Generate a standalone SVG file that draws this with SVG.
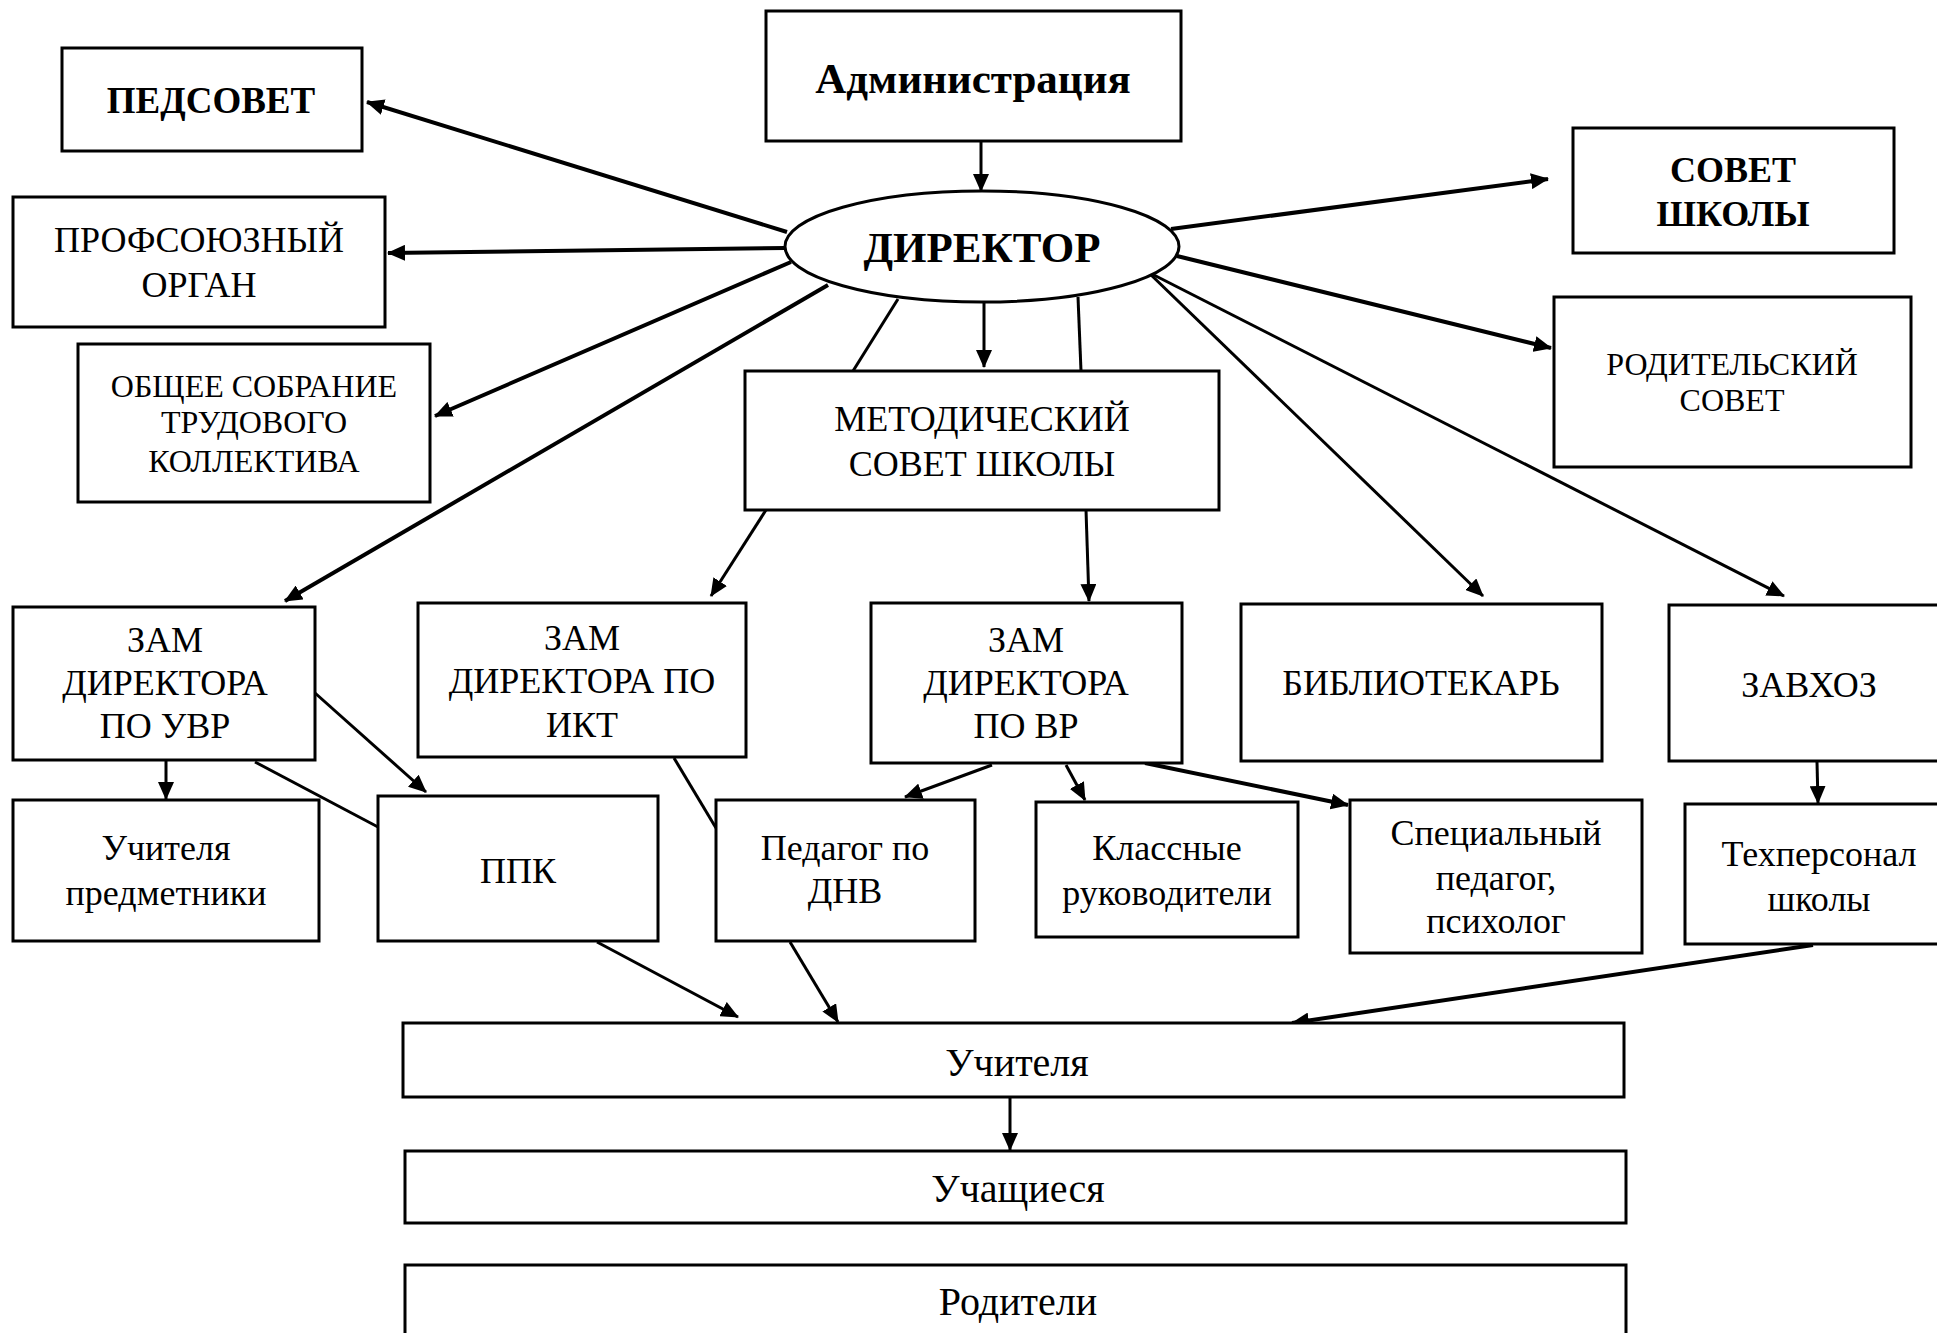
<svg xmlns="http://www.w3.org/2000/svg" width="1937" height="1333" viewBox="0 0 1937 1333">
<defs>
<marker id="ah" markerUnits="userSpaceOnUse" markerWidth="18" markerHeight="16" refX="17" refY="8" orient="auto">
<path d="M0,0 L18,8 L0,16 z" fill="#000"/>
</marker>
<style>
.box{fill:#fff;stroke:#000;stroke-width:3}
.t{font-family:"Liberation Serif","Times New Roman",serif;font-size:36px;fill:#000;text-anchor:middle}
.s{font-size:32px}
.b{font-weight:bold}
.l{font-size:40px}
.big{font-size:43px}
.c{fill:none;stroke:#000;stroke-width:3}
.k{stroke-width:4}
.a{marker-end:url(#ah)}
</style>
</defs>
<rect width="1937" height="1333" fill="#fff"/>
<g id="connectors">
<line class="c a" x1="981" y1="142" x2="981" y2="191"/>
<line class="c k a" x1="787" y1="232" x2="367" y2="102"/>
<line class="c k a" x1="785" y1="248" x2="388" y2="253"/>
<line class="c k a" x1="791" y1="262" x2="435" y2="416"/>
<line class="c k a" x1="828" y1="285" x2="285" y2="601"/>
<line class="c k a" x1="1171" y1="229" x2="1548" y2="179"/>
<line class="c k a" x1="1177" y1="256" x2="1551" y2="348"/>
<line class="c a" x1="1148" y1="272" x2="1483" y2="596"/>
<line class="c a" x1="1148" y1="272" x2="1784" y2="596"/>
<line class="c" x1="898" y1="299" x2="853" y2="371"/>
<line class="c" x1="1078" y1="297" x2="1081" y2="371"/>
<line class="c a" x1="984" y1="303" x2="984" y2="367"/>
<line class="c a" x1="766" y1="510" x2="711" y2="596"/>
<line class="c a" x1="1086" y1="510" x2="1089" y2="601"/>
<line class="c a" x1="166" y1="760" x2="166" y2="799"/>
<line class="c a" x1="315" y1="693" x2="426" y2="792"/>
<line class="c" x1="255" y1="762" x2="378" y2="827"/>
<line class="c" x1="674" y1="758" x2="716" y2="828"/>
<line class="c a" x1="992" y1="765" x2="905" y2="797"/>
<line class="c a" x1="1066" y1="765" x2="1085" y2="800"/>
<line class="c k a" x1="1145" y1="763" x2="1348" y2="805"/>
<line class="c a" x1="1817" y1="762" x2="1818" y2="803"/>
<line class="c a" x1="597" y1="942" x2="738" y2="1017"/>
<line class="c a" x1="790" y1="942" x2="838" y2="1022"/>
<line class="c k a" x1="1813" y1="945" x2="1292" y2="1023"/>
<line class="c a" x1="1010" y1="1098" x2="1010" y2="1150"/>
</g>
<g id="admin"><rect class="box" x="766" y="11" width="415" height="130"/><text class="t b big" x="973" y="93">Администрация</text></g>
<g id="director"><ellipse cx="982" cy="246.5" rx="197" ry="55.5" fill="#fff" stroke="#000" stroke-width="3"/><text class="t b big" x="982" y="262">ДИРЕКТОР</text></g>
<g id="pedsovet"><rect class="box" x="62" y="48" width="300" height="103"/><text class="t b" x="211" y="113" style="font-size:37px">ПЕДСОВЕТ</text></g>
<g id="profsoyuz"><rect class="box" x="13" y="197" width="372" height="130"/><text class="t" x="199" y="252">ПРОФСОЮЗНЫЙ</text><text class="t" x="199" y="297">ОРГАН</text></g>
<g id="sobranie"><rect class="box" x="78" y="344" width="352" height="158"/><text class="t s" x="254" y="397">ОБЩЕЕ СОБРАНИЕ</text><text class="t s" x="254" y="433">ТРУДОВОГО</text><text class="t s" x="254" y="472">КОЛЛЕКТИВА</text></g>
<g id="sovet-shkoly"><rect class="box" x="1573" y="128" width="321" height="125"/><text class="t b" x="1733" y="182">СОВЕТ</text><text class="t b" x="1733" y="226">ШКОЛЫ</text></g>
<g id="roditelsky"><rect class="box" x="1554" y="297" width="357" height="170"/><text class="t s" x="1732" y="375">РОДИТЕЛЬСКИЙ</text><text class="t s" x="1732" y="411">СОВЕТ</text></g>
<g id="metod"><rect class="box" x="745" y="371" width="474" height="139"/><text class="t" x="982" y="431">МЕТОДИЧЕСКИЙ</text><text class="t" x="982" y="476">СОВЕТ ШКОЛЫ</text></g>
<g id="zam-uvr"><rect class="box" x="13" y="607" width="302" height="153"/><text class="t" x="165" y="652">ЗАМ</text><text class="t" x="165" y="695">ДИРЕКТОРА</text><text class="t" x="165" y="738">ПО УВР</text></g>
<g id="zam-ikt"><rect class="box" x="418" y="603" width="328" height="154"/><text class="t" x="582" y="650">ЗАМ</text><text class="t" x="582" y="693">ДИРЕКТОРА ПО</text><text class="t" x="582" y="737">ИКТ</text></g>
<g id="zam-vr"><rect class="box" x="871" y="603" width="311" height="160"/><text class="t" x="1026" y="652">ЗАМ</text><text class="t" x="1026" y="695">ДИРЕКТОРА</text><text class="t" x="1026" y="738">ПО ВР</text></g>
<g id="bibliotekar"><rect class="box" x="1241" y="604" width="361" height="157"/><text class="t" x="1421" y="695">БИБЛИОТЕКАРЬ</text></g>
<g id="zavhoz"><rect class="box" x="1669" y="605" width="300" height="156"/><text class="t" x="1809" y="697">ЗАВХОЗ</text></g>
<g id="uchitelya-pred"><rect class="box" x="13" y="800" width="306" height="141"/><text class="t" x="166" y="860">Учителя</text><text class="t" x="166" y="905">предметники</text></g>
<g id="ppk"><rect class="box" x="378" y="796" width="280" height="145"/><text class="t" x="518" y="883">ППК</text></g>
<g id="pedagog-dnv"><rect class="box" x="716" y="800" width="259" height="141"/><text class="t" x="845" y="860">Педагог по</text><text class="t" x="845" y="903">ДНВ</text></g>
<g id="klassnye"><rect class="box" x="1036" y="802" width="262" height="135"/><text class="t" x="1167" y="860">Классные</text><text class="t" x="1167" y="905">руководители</text></g>
<g id="specialny"><rect class="box" x="1350" y="800" width="292" height="153"/><text class="t" x="1496" y="845">Специальный</text><text class="t" x="1496" y="890">педагог,</text><text class="t" x="1496" y="933">психолог</text></g>
<g id="tehpersonal"><rect class="box" x="1685" y="804" width="290" height="140"/><text class="t" x="1819" y="866">Техперсонал</text><text class="t" x="1819" y="911">школы</text></g>
<g id="uchitelya"><rect class="box" x="403" y="1023" width="1221" height="74"/><text class="t l" x="1017" y="1076">Учителя</text></g>
<g id="uchashchiesya"><rect class="box" x="405" y="1151" width="1221" height="72"/><text class="t l" x="1018" y="1202">Учащиеся</text></g>
<g id="roditeli"><rect class="box" x="405" y="1265" width="1221" height="90"/><text class="t l" x="1018" y="1315">Родители</text></g>
</svg>
